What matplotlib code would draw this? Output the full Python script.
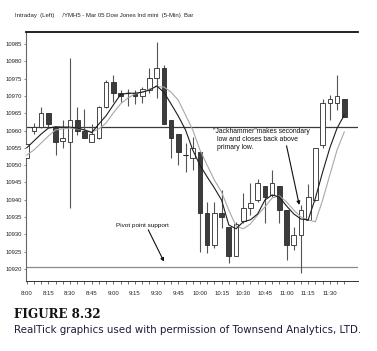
import matplotlib
matplotlib.use('Agg')
import matplotlib.pyplot as plt
import numpy as np

# ---------------- data ----------------
tick_labels = ['8:00', '8:15', '8:30', '8:45', '9:00', '9:15', '9:30', '9:45',
               '10:00', '10:15', '10:30', '10:45', '11:00', '11:15', '11:30']
y_ticks = [10920, 10925, 10930, 10935, 10940, 10945, 10950, 10955,
           10960, 10965, 10970, 10975, 10980, 10985]

opens = [10952.1, 10960.0, 10961.0, 10965.1, 10961.1, 10957.0, 10956.8, 10963.0, 10959.9, 10956.8,
         10957.8, 10966.7, 10973.9, 10970.9, 10970.9, 10970.9, 10970.0, 10971.7, 10975.1, 10978.0,
         10963.0, 10959.0, 10952.9, 10952.1, 10953.9, 10936.2, 10926.9, 10936.2, 10932.2, 10923.8,
         10933.9, 10937.7, 10939.9, 10944.0, 10941.4, 10944.0, 10937.0, 10926.9, 10929.8, 10934.2,
         10939.9, 10955.8, 10968.0, 10968.0, 10969.0]
highs = [10956.1, 10962.2, 10966.9, 10965.1, 10961.1, 10963.0, 10980.9, 10966.9, 10966.2, 10961.9,
         10967.0, 10974.5, 10976.0, 10971.7, 10972.0, 10971.7, 10972.7, 10978.1, 10985.7, 10978.9,
         10963.0, 10959.0, 10956.4, 10958.2, 10953.9, 10939.4, 10939.4, 10942.8, 10932.2, 10933.7,
         10942.0, 10944.8, 10946.0, 10944.0, 10948.6, 10944.0, 10937.0, 10932.2, 10938.5, 10944.6,
         10955.0, 10969.0, 10970.3, 10976.0, 10969.0]
lows = [10952.1, 10959.0, 10960.8, 10961.0, 10952.9, 10955.0, 10937.5, 10958.7, 10957.8, 10956.8,
        10957.5, 10966.5, 10968.3, 10968.3, 10967.1, 10967.7, 10968.0, 10970.8, 10969.3, 10961.9,
        10952.1, 10950.0, 10948.1, 10948.6, 10925.0, 10924.6, 10926.1, 10931.8, 10921.7, 10923.6,
        10933.3, 10935.6, 10939.4, 10933.3, 10940.9, 10933.4, 10922.6, 10925.5, 10918.8, 10934.0,
        10939.7, 10954.9, 10963.0, 10965.9, 10963.8]
closes = [10956.1, 10961.1, 10965.1, 10961.8, 10956.8, 10957.9, 10963.0, 10959.9, 10957.9, 10959.0,
          10966.9, 10973.9, 10970.9, 10970.0, 10970.9, 10970.0, 10971.9, 10975.1, 10978.0, 10961.9,
          10957.8, 10953.9, 10952.9, 10955.0, 10936.2, 10926.9, 10936.2, 10935.0, 10923.6, 10933.0,
          10937.7, 10939.1, 10944.9, 10940.9, 10944.9, 10937.0, 10926.9, 10929.8, 10937.0, 10940.9,
          10954.9, 10968.0, 10969.0, 10970.0, 10963.8]

ma_fast = [10955.0, 10957.0, 10959.0, 10960.7, 10961.1, 10961.0, 10961.0, 10960.7, 10960.2, 10959.4,
           10961.9, 10964.3, 10967.4, 10970.4, 10970.8, 10970.8, 10971.1, 10971.7, 10972.9, 10971.1,
           10967.7, 10964.2, 10960.2, 10954.4, 10950.0, 10946.6, 10943.4, 10939.9, 10932.7, 10931.6,
           10933.6, 10934.2, 10935.9, 10939.9, 10941.4, 10940.8, 10938.2, 10935.9, 10934.4, 10934.2,
           10940.5, 10948.0, 10955.0, 10960.7, 10964.5]
ma_slow = [10952.9, 10954.4, 10956.4, 10958.4, 10960.2, 10960.5, 10960.7, 10960.5, 10960.2, 10959.6,
           10960.5, 10962.2, 10965.1, 10967.7, 10969.4, 10970.6, 10971.1, 10972.0, 10972.7, 10972.6,
           10971.1, 10968.8, 10964.5, 10960.2, 10954.4, 10950.0, 10945.7, 10942.2, 10937.0, 10932.4,
           10931.6, 10933.0, 10935.6, 10937.9, 10940.5, 10941.1, 10939.4, 10937.0, 10935.0, 10934.2,
           10933.6, 10939.9, 10947.2, 10954.4, 10959.6]

pivot_level = 10961.1
support_level = 10920.5

# ---------------- figure ----------------
W, H = 377, 351
fig = plt.figure(figsize=(W / 100, H / 100), dpi=100)
fig.patch.set_facecolor('white')

def fx(px):
    return px / W

def fy(py):
    return 1 - py / H

ax = fig.add_axes([fx(26), fy(281), fx(358) - fx(26), fy(32) - fy(281)])
narrow = ['Liberation Sans Narrow', 'Liberation Sans', 'DejaVu Sans']

n = len(opens)
x = np.arange(n)
o = np.array(opens); c = np.array(closes); h = np.array(highs); l = np.array(lows)
up = c >= o

# reference lines
ax.axhline(pivot_level, color='#3a3a3a', lw=0.9, zorder=1)
ax.axhline(support_level, color='#8a8a8a', lw=0.9, zorder=1)

# wicks
ax.vlines(x, l, h, color='#555555', lw=0.8, zorder=2)
# bodies
bw = 0.64
ax.bar(x[up], (c - o)[up], bottom=o[up], width=bw, color='white',
       edgecolor='#2a2a2a', linewidth=0.6, zorder=3)
ax.bar(x[~up], (c - o)[~up], bottom=o[~up], width=bw, color='#3c3c3c',
       edgecolor='#2a2a2a', linewidth=0.6, zorder=3)
doji = np.isclose(o, c)
ax.hlines(o[doji], x[doji] - bw / 2, x[doji] + bw / 2, color='#2a2a2a', lw=0.8, zorder=4)

# moving averages
ax.plot(x, ma_slow, color='#a8a8a8', lw=0.8, zorder=5)
ax.plot(x, ma_fast, color='#1e1e1e', lw=0.8, zorder=6)

ax.set_xlim(-0.1, 45.9)
ax.set_ylim(10916.5, 10988.5)

# axes styling
ax.spines['right'].set_visible(False)
ax.spines['top'].set_linewidth(1.3)
ax.spines['top'].set_color('#111111')
ax.spines['bottom'].set_linewidth(0.7)
ax.spines['bottom'].set_color('#333333')
ax.spines['left'].set_linestyle((0, (1, 1)))
ax.spines['left'].set_color('#666666')
ax.spines['left'].set_linewidth(0.8)

ax.set_xticks(np.arange(0, 3 * len(tick_labels), 3))
ax.set_xticklabels(tick_labels, fontsize=4.3, family=narrow, color='#222222')
ax.set_xticks(x, minor=True)
ax.tick_params(axis='x', which='both', direction='out', length=2.5, width=0.5,
               color='#333333', pad=5)
ax.set_yticks(y_ticks)
ax.set_yticklabels([str(v) for v in y_ticks], fontsize=4.2, family=narrow, color='#222222')
ax.tick_params(axis='y', direction='out', length=1.5, width=0.5, color='#555555', pad=1.5)

# annotations
ax.annotate('', xy=(19.02, 10922.1), xytext=(16.84, 10931.3),
            arrowprops=dict(arrowstyle='-|>', color='#111111', lw=0.8,
                            mutation_scale=5, shrinkA=0, shrinkB=0))
ax.text(16.1, 10932.6, 'Pivot point support', fontsize=4.6, family=narrow,
        ha='center', va='center', color='#111111')

ax.annotate('', xy=(37.76, 10938.5), xytext=(36.0, 10955.6),
            arrowprops=dict(arrowstyle='-|>', color='#111111', lw=0.8,
                            mutation_scale=5, shrinkA=0, shrinkB=0))
ax.text(25.85, 10959.7, '"Jackhammer"makes secondary', fontsize=4.9, family=narrow,
        ha='left', va='center', color='#111111')
ax.text(26.3, 10957.3, 'low and closes back above', fontsize=4.9, family=narrow,
        ha='left', va='center', color='#111111')
ax.text(26.3, 10955.2, 'primary low.', fontsize=4.9, family=narrow,
        ha='left', va='center', color='#111111')

# header and caption
fig.text(fx(15), fy(15), 'Intraday  (Left)     /YMH5 - Mar 05 Dow Jones Ind mini  (5-Min)  Bar',
         fontsize=4.3, family=narrow, color='#222222', ha='left', va='center')
fig.text(fx(14), fy(314), 'FIGURE 8.32', fontsize=8.6, family='DejaVu Serif',
         fontweight='bold', color='#111111', ha='left', va='center')
fig.text(fx(14), fy(330), 'RealTick graphics used with permission of Townsend Analytics, LTD.',
         fontsize=7.4, family='DejaVu Sans', color='#1c1c3c', ha='left', va='center')

fig.savefig('out.png', dpi=100, facecolor='white')
